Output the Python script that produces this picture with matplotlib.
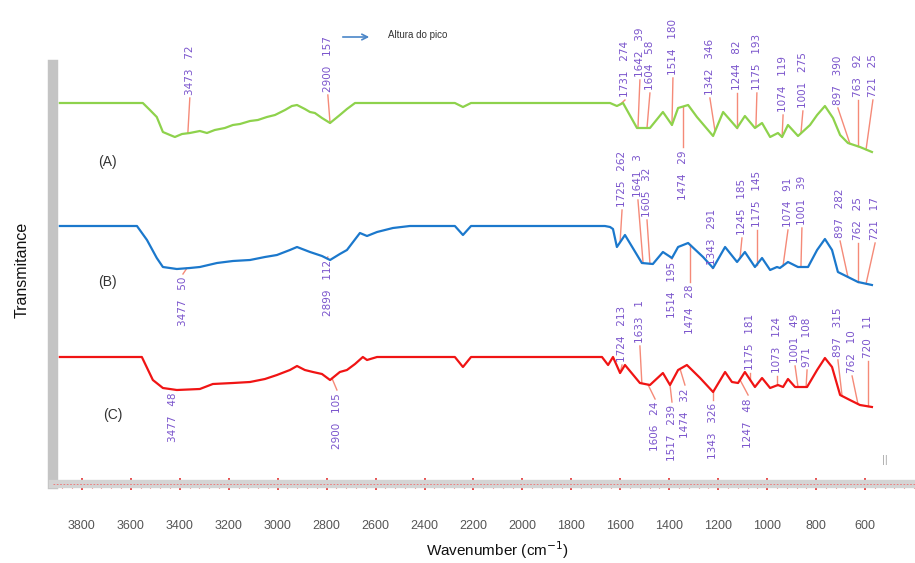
import numpy as np
import matplotlib
matplotlib.use("Agg")
import matplotlib.pyplot as plt
from matplotlib import ticker

plt.rcParams['font.family'] = ['Liberation Sans', 'DejaVu Sans']

# spectra: wavenumber (cm-1) and relative transmittance (baseline = 100)
wn_a = [3890, 3551, 3522, 3494, 3469, 3440, 3420, 3391, 3359, 3318, 3289, 3257, 3216, 3183, 3154,
        3113, 3081, 3044, 3011, 2970, 2942, 2921, 2889, 2868, 2848, 2819, 2786, 2746, 2717, 2684,
        2276, 2243, 2210, 1642, 1614, 1589, 1532, 1479, 1426, 1389, 1364, 1323, 1287, 1221, 1180,
        1123, 1091, 1050, 1021, 988, 956, 939, 915, 874, 825, 796, 764, 731, 702, 670, 621, 572]
t_a = [100, 100, 93, 86, 71, 68, 66, 69, 70, 72, 70, 73, 75, 78, 79,
       82, 83, 86, 88, 93, 97, 98, 94, 91, 90, 85, 80, 88, 94, 100,
       100, 96, 100, 100, 97, 100, 75, 75, 91, 78, 95, 98, 86, 67, 91,
       75, 87, 75, 80, 66, 70, 66, 78, 67, 78, 88, 97, 85, 68, 60, 56, 51]

wn_b = [3890, 3575, 3534, 3494, 3469, 3412, 3359, 3318, 3248, 3183, 3113, 3052, 3003, 2950, 2921,
        2868, 2819, 2786, 2746, 2717, 2664, 2635, 2594, 2529, 2460, 2276, 2243, 2210, 1663, 1642,
        1630, 1614, 1581, 1512, 1467, 1426, 1389, 1364, 1323, 1262, 1221, 1172, 1123, 1091, 1050,
        1021, 988, 960, 948, 915, 874, 833, 796, 764, 735, 711, 670, 629, 572]
t_b = [100, 100, 86, 68, 59, 57, 58, 59, 63, 65, 66, 69, 71, 76, 79,
       74, 70, 66, 72, 76, 93, 90, 94, 98, 100, 100, 91, 100, 100, 99,
       97, 79, 91, 63, 62, 74, 68, 79, 83, 69, 58, 79, 64, 74, 59,
       68, 56, 59, 58, 64, 59, 59, 76, 87, 76, 54, 49, 44, 41]

wn_c = [3890, 3555, 3510, 3469, 3412, 3318, 3265, 3183, 3113, 3052, 3003, 2950, 2921, 2889, 2856,
        2819, 2786, 2746, 2717, 2684, 2652, 2635, 2594, 2276, 2243, 2210, 1675, 1650, 1630, 1601,
        1581, 1520, 1479, 1426, 1397, 1364, 1328, 1274, 1221, 1172, 1144, 1119, 1091, 1050, 1021,
        988, 956, 935, 915, 886, 837, 796, 764, 735, 702, 662, 621, 572]
t_c = [100, 100, 77, 69, 67, 68, 73, 74, 75, 78, 82, 87, 91, 87, 85,
       83, 77, 85, 87, 93, 100, 97, 100, 100, 90, 100, 100, 92, 100, 84,
       92, 74, 72, 84, 72, 87, 92, 79, 65, 85, 75, 74, 85, 70, 79,
       69, 72, 70, 78, 70, 70, 87, 99, 90, 62, 57, 52, 50]

offsets = [254, 131, 0]
colors = ['#8ed24c', '#1b78cc', '#f01414']
names = ['(A)', '(B)', '(C)']

# peak labels: text, text position (cm-1), text anchor height, peak position (cm-1)
lab_a = ["3473   72", "2900   157", "1731   274", "1642   39", "1604   58", "1514   180",
         "1474   29", "1342   346", "1244   82", "1175   193", "1074   119", "1001   275",
         "897   390", "763   92", "721   25"]
lab_a_x = [3359, 2795, 1581, 1520, 1479, 1385, 1344, 1234, 1123, 1042, 935, 854, 711, 629, 568]
lab_a_y = [362, 365, 360, 380, 367, 382, 307, 362, 367, 367, 345, 349, 352, 360, 360]
pk_a = [3367, 2786, 1601, 1528, 1491, 1389, 1344, 1213, 1123, 1046, 939, 862, 662, 629, 596]

lab_b = ["3477   50", "2899   112", "1725   262", "1641   3", "1605   32", "1514   195",
         "1474   28", "1343   291", "1245   185", "1175   145", "1074   91", "1001   39",
         "897   282", "762   25", "721   17"]
lab_b_x = [3387, 2795, 1593, 1528, 1491, 1389, 1315, 1225, 1103, 1042, 915, 858, 702, 629, 559]
lab_b_y = [180, 197, 250, 260, 240, 195, 172, 192, 222, 230, 230, 232, 219, 217, 217]
pk_b = [3371, 2799, 1601, 1507, 1479, 1397, 1315, 1225, 1111, 1042, 935, 862, 670, 629, 596]

lab_c = ["3477   48", "2900   105", "1724   213", "1633   1", "1606   24", "1517   239",
         "1474   32", "1343   326", "1247   48", "1175   181", "1073   124", "1001   49",
         "971   108", "897   315", "762   10", "720   11"]
lab_c_x = [3428, 2758, 1593, 1520, 1458, 1389, 1336, 1221, 1078, 1070, 960, 886, 837, 711, 653, 588]
lab_c_y = [65, 64, 95, 114, 55, 52, 69, 54, 59, 87, 84, 94, 90, 100, 84, 99]
pk_c = [3428, 2778, 1601, 1512, 1487, 1397, 1356, 1221, 1111, 1070, 960, 874, 841, 694, 629, 588]

xticks = list(range(600, 3801, 200))

fig = plt.figure(figsize=(9.15, 5.63), dpi=100)
ax = fig.add_axes([53/915, 1-484/563, 862/915, 419/563])
ax.set_xlim(3918, 396)
ax.set_ylim(-27, 392)

series = [(wn_a, t_a, lab_a, lab_a_x, lab_a_y, pk_a),
          (wn_b, t_b, lab_b, lab_b_x, lab_b_y, pk_b),
          (wn_c, t_c, lab_c, lab_c_x, lab_c_y, pk_c)]
purple = '#7a54cc'
for (wn, t, labs, lx, ly, pk), off, col in zip(series, offsets, colors):
    wn = np.array(wn)
    y = np.array(t) + off
    ax.plot(wn, y, color=col, lw=1.6, zorder=3)
    for s, xx, yy, p in zip(labs, lx, ly, pk):
        yc = np.interp(p, wn[::-1], y[::-1])
        if yy > yc:
            ax.plot([p, xx], [yc, yy - 3], color='#f58a78', lw=1, zorder=2)
            ax.text(xx, yy, s, rotation=90, ha='center', va='bottom', color=purple,
                    fontsize=7.5, family='DejaVu Sans')
        else:
            ax.plot([p, xx], [yc, yy + 3], color='#f58a78', lw=1, zorder=2)
            ax.text(xx, yy, s, rotation=90, ha='center', va='top', color=purple,
                    fontsize=7.5, family='DejaVu Sans')

ax.text(3694, 295, names[0], fontsize=10, color='#333333', ha='center', va='center')
ax.text(3694, 175, names[1], fontsize=10, color='#333333', ha='center', va='center')
ax.text(3673, 42, names[2], fontsize=10, color='#333333', ha='center', va='center')
ax.text(518, -3, '||', fontsize=8, color='#aaaaaa', ha='center', va='center')

# axes styling
for s in ['top', 'right']:
    ax.spines[s].set_visible(False)
ax.spines['left'].set_color('#c4c4c4')
ax.spines['left'].set_linewidth(7.5)
ax.spines['bottom'].set_color('#d4d4d4')
ax.spines['bottom'].set_linewidth(6)
ax.axhline(-27, color='#f07070', lw=0.6, ls=(0, (2, 2)), zorder=4, clip_on=False)
ax.set_yticks([])
ax.set_xticks(xticks)
ax.xaxis.set_minor_locator(ticker.MultipleLocator(40))
ax.tick_params(axis='x', which='major', direction='inout', length=8, width=1.1,
               color='#e02020', pad=22, labelsize=9, labelcolor='#555555')
ax.tick_params(axis='x', which='minor', direction='inout', length=6, width=0.8,
               color='#e84040')

fig.text(497/915, 1-550/563, 'Wavenumber (cm$^{-1}$)', ha='center', va='center',
         fontsize=11, color='#111111')
fig.text(22/915, 1-270/563, 'Transmitance', rotation=90, ha='center', va='center',
         fontsize=11.5, color='#111111')

# legend
ax.annotate('', xy=(372/915, 1-37/563), xytext=(340/915, 1-37/563),
            xycoords='figure fraction', textcoords='figure fraction',
            arrowprops=dict(arrowstyle='->', color='#4a86c8', lw=1.2))
fig.text(388/915, 1-35/563, 'Altura do pico', fontsize=7, color='#333333',
         ha='left', va='center')

fig.savefig('out.png', dpi=100)
